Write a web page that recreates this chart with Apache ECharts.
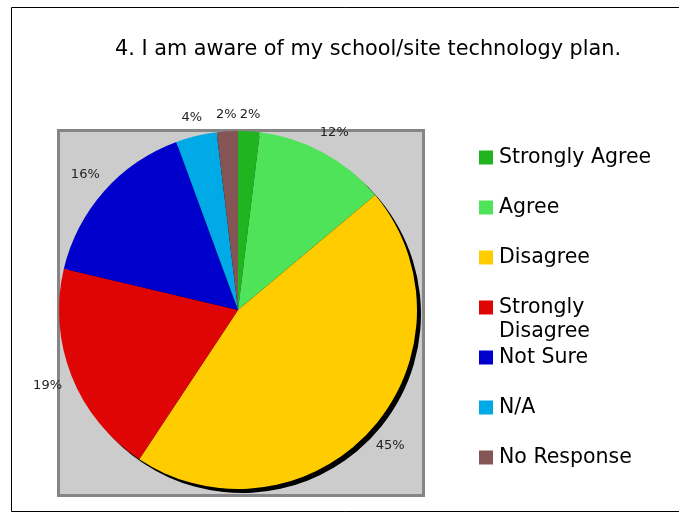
<!DOCTYPE html>
<html>
<head>
<meta charset="utf-8">
<script src="https://cdn.jsdelivr.net/npm/echarts@6/dist/echarts.min.js"></script>
<style>html,body{margin:0;padding:0;background:#fff;}#main{width:679px;height:513px;}</style>
</head>
<body>
<div id="main"></div>
<script>
var titleText = '4. I am aware of my school/site technology plan.';
var categories = ['Strongly Agree', 'Agree', 'Disagree', 'Strongly Disagree', 'Not Sure', 'N/A', 'No Response'];
// shares (labels show them rounded)
var percents = [1.95, 11.95, 45.4, 19.4, 15.7, 3.7, 1.9];
var colors = ['#20b520', '#4fe35a', '#ffcc00', '#e00505', '#0000cc', '#00aae6', '#855555'];

var FONT = 'DejaVu Sans';
var cx = 238, cy = 310, R = 179;
var LABEL_GAP = 10;

var mainData = categories.map(function (c, i) {
  return { name: c, value: percents[i], itemStyle: { color: colors[i] } };
});
var plainData = categories.map(function (c, i) {
  return { name: c, value: percents[i] };
});

var chart = echarts.init(document.getElementById('main'), null, { renderer: 'canvas' });
chart.setOption({
  backgroundColor: '#ffffff',
  animation: false,
  title: {
    text: titleText,
    left: 115,
    top: 39,
    padding: 0,
    textStyle: { fontFamily: FONT, fontSize: 20.8, fontWeight: 'normal', color: '#000' }
  },
  graphic: [
    { type: 'rect', z: -10, silent: true,
      shape: { x: 11.5, y: 7.5, width: 700, height: 504 },
      style: { fill: '#fff', stroke: '#000', lineWidth: 1 } },
    { type: 'rect', z: -5, silent: true,
      shape: { x: 58.5, y: 130.5, width: 365, height: 365 },
      style: { fill: '#cccccc', stroke: '#858585', lineWidth: 3 } },
    { type: 'text', z: 10, silent: true, left: 499, top: 321,
      style: { text: 'Disagree', fontFamily: FONT, fontSize: 20.5, fill: '#000' } }
  ],
  legend: {
    orient: 'vertical',
    left: 479,
    top: 147,
    padding: 0,
    itemWidth: 14,
    itemHeight: 14,
    itemGap: 29,
    icon: 'rect',
    selectedMode: false,
    data: categories,
    formatter: function (name) { return name === 'Strongly Disagree' ? 'Strongly' : name; },
    textStyle: { fontFamily: FONT, fontSize: 20.5, lineHeight: 20, color: '#000', padding: [0, 0, 0, 1] }
  },
  series: [
    {
      type: 'pie',
      z: 3,
      center: [cx, cy],
      radius: [0, R],
      startAngle: 90,
      clockwise: true,
      avoidLabelOverlap: false,
      silent: true,
      label: { show: false },
      labelLine: { show: false },
      itemStyle: { borderWidth: 0 },
      emphasis: { disabled: true },
      data: mainData
    },
    {
      type: 'pie',
      z: 2,
      center: [cx + 4, cy + 4],
      radius: [0, R],
      startAngle: 90,
      silent: true,
      label: { show: false },
      labelLine: { show: false },
      itemStyle: { color: '#000', borderWidth: 0 },
      emphasis: { disabled: true },
      data: plainData
    },
    {
      type: 'pie',
      z: 4,
      center: [cx, cy],
      radius: [R + 11, R + 33],
      startAngle: 90,
      silent: true,
      avoidLabelOverlap: false,
      itemStyle: { color: 'rgba(0,0,0,0)', borderWidth: 0 },
      emphasis: { disabled: true },
      labelLine: { show: false },
      label: {
        show: true,
        position: 'inside',
        formatter: function (p) { return Math.round(p.value) + '%'; },
        fontFamily: FONT, fontSize: 13, color: '#222'
      },
      // keep each label box a fixed gap away from the pie edge
      labelLayout: function (p) {
        var r = p.labelRect;
        var lx = r.x + r.width / 2, ly = r.y + r.height / 2;
        var dx = lx - cx, dy = ly - cy;
        var d = Math.sqrt(dx * dx + dy * dy) || 1;
        var ux = dx / d, uy = dy / d;
        var t = R + LABEL_GAP + Math.abs(ux) * r.width / 2 + Math.abs(uy) * r.height / 2;
        return { x: cx + ux * t, y: cy + uy * t };
      },
      data: plainData
    }
  ]
});
</script>
</body>
</html>
